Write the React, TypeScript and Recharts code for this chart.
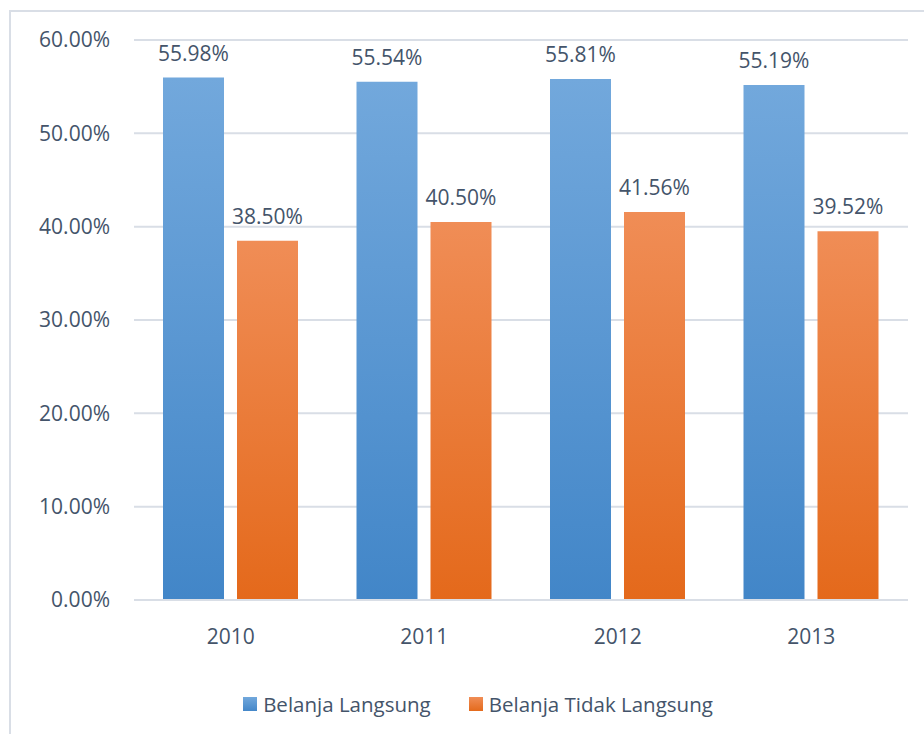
import {
  BarChart,
  Bar,
  XAxis,
  YAxis,
  CartesianGrid,
  Legend,
  LabelList,
} from "recharts";

const years = ["2010", "2011", "2012", "2013"];
const belanjaLangsung = [55.98, 55.54, 55.81, 55.19];
const belanjaTidakLangsung = [38.5, 40.5, 41.56, 39.52];
const yTicks = [0, 10, 20, 30, 40, 50, 60];

const data = years.map((year, i) => ({
  year,
  langsung: belanjaLangsung[i],
  tidakLangsung: belanjaTidakLangsung[i],
}));

const TEXT = "#44546a";
const GRID = "#d9dee6";
const FONT = "'Open Sans', 'Noto Sans', sans-serif";
const FS = 21;

const fmt = (v: any) => `${Number(v).toFixed(2)}%`;

// legend drawn under the axis, squares with the same gradient as the bars
const renderLegend = () => {
  const items = [
    { label: "Belanja Langsung", from: "#72a8dc", to: "#4487c9" },
    { label: "Belanja Tidak Langsung", from: "#f08d56", to: "#e46a1c" },
  ];
  return (
    <div
      style={{
        height: 74,
        display: "flex",
        justifyContent: "center",
        alignItems: "flex-start",
        paddingTop: 32,
        paddingLeft: 48,
        boxSizing: "border-box",
        gap: 38,
        fontFamily: FONT,
        fontSize: 20.5,
        color: TEXT,
      }}
    >
      {items.map((it) => (
        <div key={it.label} style={{ display: "flex", alignItems: "center", gap: 6 }}>
          <span
            style={{
              width: 14,
              height: 14,
              display: "inline-block",
              background: `linear-gradient(${it.from}, ${it.to})`,
            }}
          />
          <span style={{ lineHeight: "24px" }}>{it.label}</span>
        </div>
      ))}
    </div>
  );
};

export default function App() {
  return (
    <div
      style={{
        position: "absolute",
        left: 0,
        top: 0,
        width: 924,
        height: 734,
        overflow: "hidden",
        background: "#fff",
      }}
    >
      <div
        style={{
          position: "absolute",
          left: 9,
          top: 10,
          width: 940,
          height: 760,
          border: `2px solid ${GRID}`,
        }}
      />
      <BarChart
        width={924}
        height={734}
        data={data}
        margin={{ top: 40, right: 16, bottom: 0, left: 0 }}
        barGap={13}
        barCategoryGap={29}
        style={{ fontFamily: FONT }}
      >
        <defs>
          <linearGradient id="gradBlue" x1="0" y1="0" x2="0" y2="1">
            <stop offset="0%" stopColor="#72a8dc" />
            <stop offset="100%" stopColor="#4286c8" />
          </linearGradient>
          <linearGradient id="gradOrange" x1="0" y1="0" x2="0" y2="1">
            <stop offset="0%" stopColor="#f08d56" />
            <stop offset="100%" stopColor="#e4691b" />
          </linearGradient>
        </defs>
        <CartesianGrid vertical={false} stroke={GRID} strokeWidth={2} />
        <XAxis
          dataKey="year"
          height={60}
          tickLine={false}
          axisLine={{ stroke: GRID, strokeWidth: 2 }}
          tickMargin={23}
          tick={{ fill: TEXT, fontSize: FS }}
        />
        <YAxis
          width={134}
          domain={[0, 60]}
          ticks={yTicks}
          tickFormatter={fmt}
          axisLine={false}
          tickLine={false}
          tickMargin={18}
          tick={{ fill: TEXT, fontSize: FS }}
        />
        <Legend verticalAlign="bottom" content={renderLegend} />
        <Bar
          dataKey="langsung"
          name="Belanja Langsung"
          fill="url(#gradBlue)"
          isAnimationActive={false}
        >
          <LabelList
            dataKey="langsung"
            position="top"
            offset={17}
            formatter={fmt}
            fill={TEXT}
            fontSize={FS}
          />
        </Bar>
        <Bar
          dataKey="tidakLangsung"
          name="Belanja Tidak Langsung"
          fill="url(#gradOrange)"
          isAnimationActive={false}
        >
          <LabelList
            dataKey="tidakLangsung"
            position="top"
            offset={17}
            formatter={fmt}
            fill={TEXT}
            fontSize={FS}
          />
        </Bar>
      </BarChart>
    </div>
  );
}
